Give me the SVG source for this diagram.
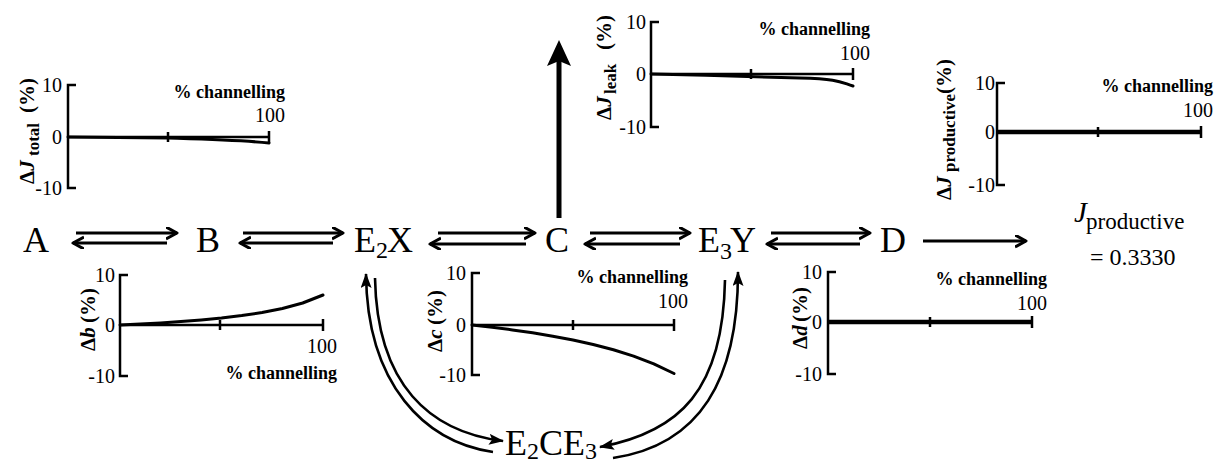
<svg xmlns="http://www.w3.org/2000/svg" width="1218" height="464" viewBox="0 0 1218 464">
<defs>
<style>
text{font-family:"Liberation Serif","Times New Roman",serif;fill:#000}
.sp{font-size:36px}
.sub{font-size:24px}
.tk{font-size:20px;text-anchor:end}
.ch{font-size:18px;font-weight:bold;text-anchor:end}
.yl{font-size:21px;font-weight:bold}
.ax{fill:none;stroke:#000;stroke-width:2.5}
.cv{fill:none;stroke:#000;stroke-width:3;stroke-linejoin:round;stroke-linecap:round}
.cvt{fill:none;stroke:#000;stroke-width:4.5}
.ar{fill:none;stroke:#000;stroke-width:2.8}
.ca{fill:none;stroke:#000;stroke-width:2.6}
</style>
<marker id="chev" markerUnits="userSpaceOnUse" markerWidth="16" markerHeight="16" refX="11" refY="6" orient="auto">
<path d="M0,0 L11,6 L0,12" fill="none" stroke="#000" stroke-width="3" stroke-linejoin="round"/>
</marker>
<marker id="tri" markerUnits="userSpaceOnUse" markerWidth="18" markerHeight="14" refX="14" refY="5.5" orient="auto">
<path d="M0,0 L15,5.5 L0,11 L3,5.5 z" fill="#000"/>
</marker>
</defs>
<rect width="1218" height="464" fill="#fff"/>

<g id="connectors">
<path class="ar" d="M76,233 H177" marker-end="url(#chev)"/>
<path class="ar" d="M167,243 H73" marker-end="url(#chev)"/>
<path class="ar" d="M243,233 H343" marker-end="url(#chev)"/>
<path class="ar" d="M333,243 H240" marker-end="url(#chev)"/>
<path class="ar" d="M438,233 H535" marker-end="url(#chev)"/>
<path class="ar" d="M526,244 H430" marker-end="url(#chev)"/>
<path class="ar" d="M590,233 H690" marker-end="url(#chev)"/>
<path class="ar" d="M680,244 H585" marker-end="url(#chev)"/>
<path class="ar" d="M771,233 H870" marker-end="url(#chev)"/>
<path class="ar" d="M860,244 H767" marker-end="url(#chev)"/>
<path class="ar" d="M923,241 H1026" marker-end="url(#chev)"/>
<path d="M559,218 V60" fill="none" stroke="#000" stroke-width="5"/>
<polygon points="559,40 547,66 559,61 571,66" fill="#000"/>
<path class="ca" d="M493,452 C425,442 367,385 366,274" marker-end="url(#tri)"/>
<path class="ca" d="M375,278 C377,385 430,432 503,441" marker-end="url(#tri)"/>
<path class="ca" d="M725,280 C723,390 680,432 600,447" marker-end="url(#tri)"/>
<path class="ca" d="M613,458 C700,445 738,380 738,272" marker-end="url(#tri)"/>
</g>

<g id="node-A"><text class="sp" x="23" y="252">A</text></g>
<g id="node-B"><text class="sp" x="196" y="252">B</text></g>
<g id="node-E2X"><text class="sp" x="354" y="252">E<tspan class="sub" dy="6">2</tspan><tspan dx="-1" dy="-6">X</tspan></text></g>
<g id="node-C"><text class="sp" x="545" y="252">C</text></g>
<g id="node-E3Y"><text class="sp" x="698" y="252">E<tspan class="sub" dy="7">3</tspan><tspan dx="-2" dy="-7">Y</tspan></text></g>
<g id="node-D"><text class="sp" x="880" y="252">D</text></g>
<g id="node-E2CE3"><text class="sp" x="505" y="455">E<tspan class="sub" dy="4">2</tspan><tspan dy="-4">CE</tspan><tspan class="sub" dy="4">3</tspan></text></g>
<g id="node-Jprod">
<text x="1074" y="222" font-size="29" font-style="italic">J</text>
<text x="1086" y="229" font-size="23">productive</text>
<text x="1090" y="265" font-size="24">= 0.3330</text>
</g>

<g id="plot-Jtotal">
<path class="ax" d="M76,85 H68 V188 H76 M68,137 H269 M168,132 V142 M269,131 V143"/>
<path class="cv" d="M68,137 L168,138 C200,139 240,140 269,143"/>
<text class="tk" x="62" y="92">10</text>
<text class="tk" x="62" y="144">0</text>
<text class="tk" x="62" y="195">-10</text>
<text class="ch" x="285" y="98">% channelling</text>
<text class="tk" x="285" y="122">100</text>
<text class="yl" transform="translate(34,184) rotate(-90)">Δ<tspan font-style="italic">J</tspan><tspan x="28" dy="5" font-size="17">total</tspan><tspan x="71" dy="-5">(%)</tspan></text>
</g>

<g id="plot-Jleak">
<path class="ax" d="M659,22 H651 V127 H659 M651,74 H853 M751,69 V79 M853,68 V80"/>
<path class="cv" d="M651,74 C700,75 760,77 800,78 S840,82 853,86"/>
<text class="tk" x="646" y="29">10</text>
<text class="tk" x="646" y="81">0</text>
<text class="tk" x="646" y="134">-10</text>
<text class="ch" x="870" y="35">% channelling</text>
<text class="tk" x="870" y="60">100</text>
<text class="yl" transform="translate(611,120) rotate(-90)">Δ<tspan font-style="italic">J</tspan><tspan x="26" dy="5" font-size="17">leak</tspan><tspan x="70" dy="-5">(%)</tspan></text>
</g>

<g id="plot-Jproductive">
<path class="ax" d="M1005,83 H997 V185 H1005 M1098,127 V137 M1201,126 V138"/>
<path class="cvt" d="M997,132 H1201"/>
<text class="tk" x="995" y="90">10</text>
<text class="tk" x="995" y="139">0</text>
<text class="tk" x="995" y="192">-10</text>
<text class="ch" x="1213" y="92">% channelling</text>
<text class="tk" x="1213" y="117">100</text>
<text class="yl" transform="translate(951,200) rotate(-90)">Δ<tspan font-style="italic">J</tspan><tspan x="28" dy="4" font-size="17">productive</tspan><tspan x="106" dy="-4">(%)</tspan></text>
</g>

<g id="plot-b">
<path class="ax" d="M128,275 H120 V376 H128 M120,325 H323 M220,320 V330 M323,319 V331"/>
<polyline class="cv" points="120,325 140.3,324 160.6,322.9 180.9,321.5 201.2,319.9 221.5,318 241.8,315.6 262.1,312.5 282.4,308.5 302.7,303 323,295"/>
<text class="tk" x="115" y="282">10</text>
<text class="tk" x="115" y="332">0</text>
<text class="tk" x="115" y="383">-10</text>
<text class="tk" x="337" y="353">100</text>
<text class="ch" x="337" y="379">% channelling</text>
<text class="yl" transform="translate(95,351) rotate(-90)">Δ<tspan font-style="italic">b</tspan><tspan x="28">(%)</tspan></text>
</g>

<g id="plot-c">
<path class="ax" d="M480,273 H472 V375 H480 M472,325 H674 M573,320 V330 M674,319 V331"/>
<polyline class="cv" points="472,325 492.2,327.3 512.4,329.9 532.6,332.8 552.8,336.2 573,340 593.2,344.5 613.4,349.8 633.6,356.1 653.8,363.9 674,373.5"/>
<text class="tk" x="466" y="280">10</text>
<text class="tk" x="466" y="332">0</text>
<text class="tk" x="466" y="382">-10</text>
<text class="ch" x="688" y="283">% channelling</text>
<text class="tk" x="688" y="308">100</text>
<text class="yl" transform="translate(442,352) rotate(-90)">Δ<tspan font-style="italic">c</tspan><tspan x="27">(%)</tspan></text>
</g>

<g id="plot-d">
<path class="ax" d="M836,272 H828 V374 H836 M930,317 V327 M1032,316 V328"/>
<path class="cvt" d="M828,322 H1032"/>
<text class="tk" x="822" y="279">10</text>
<text class="tk" x="822" y="329">0</text>
<text class="tk" x="822" y="381">-10</text>
<text class="ch" x="1047" y="285">% channelling</text>
<text class="tk" x="1047" y="310">100</text>
<text class="yl" transform="translate(807,349) rotate(-90)">Δ<tspan font-style="italic">d</tspan><tspan x="27">(%)</tspan></text>
</g>
</svg>
